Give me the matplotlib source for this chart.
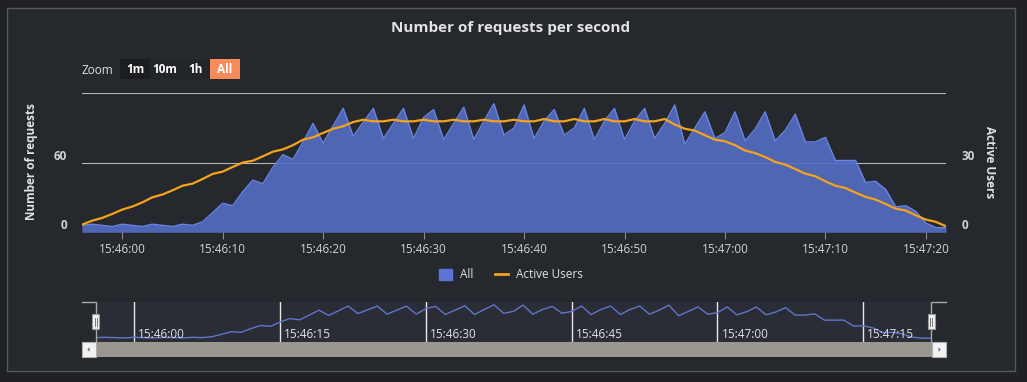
import pandas as pd
import matplotlib
matplotlib.use('Agg')
import matplotlib.pyplot as plt
import matplotlib.dates as mdates
from matplotlib.patches import Rectangle, Polygon, Patch
from matplotlib.lines import Line2D

plt.rcParams['font.family'] = ['Open Sans', 'DejaVu Sans']

# data: one point per second starting at 15:45:56
start_time = '2024-01-01 15:45:56'
requests = [6, 7, 6, 5, 7, 6, 5, 7, 6, 5, 7, 6, 9, 17, 25, 23, 35, 45, 42, 56, 67, 63,
            78, 94, 77, 92, 107, 83, 95, 107, 81, 94, 107, 81, 99, 106, 80, 94, 108, 80, 96, 111, 84, 90,
            110, 81, 96, 106, 84, 90, 107, 80, 96, 107, 80, 96, 107, 81, 94, 110, 76, 90, 104, 81, 86,
            104, 79, 89, 104, 79, 88, 102, 78, 78, 82, 62, 62, 62, 43, 44, 37, 22, 23, 18, 8, 4, 4]
active_users = [3.3, 5, 6.2, 7.9, 9.8, 11.1, 12.9, 15.1, 16.3, 18.1, 20.1, 21, 23, 25.2, 26.2, 28.2,
                30.1, 30.9, 32.8, 34.8, 35.8, 37.6,
                40, 41, 42.9, 44.7, 45.8, 47.6, 48.6, 47.9, 47.9, 48.6, 47.9, 47.9, 48.6, 47.9, 47.9,
                48.6, 47.9, 47.9, 48.6, 47.9, 47.9, 48.6,
                47.9, 47.9, 48.9, 47.9, 47.9, 48.9, 47.9, 47.9, 48.9, 47.9, 47.9, 48.9, 47.9, 47.9,
                48.9, 46.5, 44.7, 43.9, 41.9, 40, 39.3,
                37.6, 35.3, 34.2, 32.5, 30.4, 29.2, 27.3, 25.3, 24.2, 22, 20.1, 19.1, 17.1, 15.3,
                14.1, 12.2, 10.2, 9.4, 7.3, 5.5, 4.5, 2.6]
left_ticks = [0, 60, 120]
right_ticks = [0, 30, 60]
zoom_buttons = ['1m', '10m', '1h', 'All']

times = pd.date_range(start_time, periods=len(requests), freq='s')

OUTER = '#1f2124'
PANEL = '#25282c'
BLUE_FILL = '#546dc4'
BLUE_LINE = '#6a84e6'
ORANGE = '#f5a31b'
TEXT = '#e2e2e2'
TICK_TEXT = '#d2d2d2'

W, H = 1027, 382


def fx(px):
    return px / W


def fy(py):
    return 1 - py / H


fig = plt.figure(figsize=(W / 100, H / 100), dpi=100, facecolor=OUTER)

# panel
fig.add_artist(Rectangle((fx(7), fy(371)), fx(1015) - fx(7), fy(8) - fy(371),
                         transform=fig.transFigure, fc=PANEL, ec='#55585d', lw=1, zorder=0))

fig.text(fx(511), fy(28), 'Number of requests per second', ha='center', va='center',
         fontsize=11, fontweight='bold', color=TEXT)

# zoom buttons
fig.text(fx(82), fy(70), 'Zoom', ha='left', va='center', fontsize=8.5, color=TEXT)
btn_x = [120, 150, 180, 210]
btn_fc = ['#1b1d20', '#222529', '#222529', '#f78b5c']
for x0, label, fc in zip(btn_x, zoom_buttons, btn_fc):
    fig.add_artist(Rectangle((fx(x0), fy(79)), 30 / W, 20 / H, transform=fig.transFigure,
                             fc=fc, ec='none', zorder=1))
    fig.text(fx(x0 + 15), fy(69.5), label, ha='center', va='center', fontsize=8.5,
             fontweight='bold', color='white', zorder=2)

# main chart
ax = fig.add_axes([fx(82), fy(232.3), fx(946) - fx(82), fy(93.3) - fy(232.3)])
ax.set_facecolor('none')
ax.fill_between(times, requests, color=BLUE_FILL, alpha=0.9, lw=0, zorder=2)
ax.plot(times, requests, color=BLUE_LINE, lw=1, zorder=3)
ax.set_xlim(times[0], times[-1])
ax.set_ylim(left_ticks[0], left_ticks[-1])
ax.set_yticks(left_ticks)
ax.yaxis.grid(True, color='#b5b5b5', lw=0.8)
ax.set_axisbelow(True)
ax.tick_params(axis='y', length=0, labelleft=False)
for s in ax.spines.values():
    s.set_visible(False)
ax.xaxis.set_major_locator(mdates.SecondLocator(bysecond=range(0, 60, 10)))
ax.xaxis.set_major_formatter(mdates.DateFormatter('%H:%M:%S'))
ax.tick_params(axis='x', length=5, width=0.8, color='#8a8a8a', labelcolor=TICK_TEXT,
               labelsize=8.5, pad=3)

for v in left_ticks[:-1]:
    ax.annotate(str(v), xy=(0, v), xycoords=('axes fraction', 'data'),
                xytext=(-15 * 0.72, 6.5 * 0.72), textcoords='offset points',
                ha='right', va='center', fontsize=8.5, fontweight='bold', color=TICK_TEXT)

ax2 = ax.twinx()
ax2.plot(times, active_users, color=ORANGE, lw=1.6, zorder=4)
ax2.set_ylim(right_ticks[0], right_ticks[-1])
ax2.set_yticks(right_ticks)
ax2.tick_params(axis='y', length=0, labelright=False)
for s in ax2.spines.values():
    s.set_visible(False)
for v in right_ticks[:-1]:
    ax2.annotate(str(v), xy=(1, v), xycoords=('axes fraction', 'data'),
                 xytext=(16 * 0.72, 6.5 * 0.72), textcoords='offset points',
                 ha='left', va='center', fontsize=8.5, fontweight='bold', color=TICK_TEXT)

fig.text(fx(31.7), fy(161.7), 'Number of requests', rotation=90, ha='center', va='center',
         fontsize=8.5, fontweight='bold', color=TEXT)
fig.text(fx(990), fy(161.7), 'Active Users', rotation=-90, ha='center', va='center',
         fontsize=8.5, fontweight='bold', color=TEXT)

# legend
handles = [Patch(color='#5b74d6'), Line2D([], [], color=ORANGE, lw=2)]
fig.legend(handles, ['All', 'Active Users'], loc='center', bbox_to_anchor=(fx(511), fy(275)),
           ncol=2, frameon=False, handlelength=1.1, handleheight=1.1, columnspacing=1.8,
           handletextpad=0.7, fontsize=8.5, labelcolor=TEXT)

# navigator
nav = fig.add_axes([fx(95.5), fy(342), fx(931.3) - fx(95.5), fy(302) - fy(342)])
nav.set_facecolor('#2a2d35')
nav.plot(times, requests, color='#6075cc', lw=1)
nav.set_xlim(times[0], times[-1])
nav.set_ylim(-8, 120)
nav.xaxis.set_major_locator(mdates.SecondLocator(bysecond=[0, 15, 30, 45]))
nav.xaxis.grid(True, color='#e8e8e8', lw=1)
nav.tick_params(length=0, labelbottom=False, labelleft=False)
for s in nav.spines.values():
    s.set_visible(False)
for loc in nav.xaxis.get_major_locator()():
    nav.annotate(mdates.num2date(loc).strftime('%H:%M:%S'), xy=(loc, 0),
                 xycoords=('data', 'axes fraction'), xytext=(4 * 0.72, 8 * 0.72),
                 textcoords='offset points', ha='left', va='center', fontsize=8.5, color=TEXT)

# navigator outline and handles
line_kw = dict(transform=fig.transFigure, color='#a8a8a8', lw=1)
fig.add_artist(Line2D([fx(82), fx(95.5), fx(95.5)], [fy(302), fy(302), fy(342)], **line_kw))
fig.add_artist(Line2D([fx(946), fx(931.3), fx(931.3)], [fy(302), fy(302), fy(342)], **line_kw))
for hx in [95.5, 931.3]:
    fig.add_artist(Rectangle((fx(hx - 3.8), fy(329.3)), 7.6 / W, 15 / H, transform=fig.transFigure,
                             fc='#f2f2f2', ec='#999999', lw=0.8, zorder=5))
    for dx in [-1, 1]:
        fig.add_artist(Line2D([fx(hx + dx), fx(hx + dx)], [fy(318), fy(326)],
                              transform=fig.transFigure, color='#777777', lw=0.7, zorder=6))

# scrollbar
fig.add_artist(Rectangle((fx(82), fy(356.7)), fx(946) - fx(82), 14.7 / H, transform=fig.transFigure,
                         fc='#9a9790', ec='none', zorder=3))
for bx, pts in [(82, [(90, 349.5), (87.5, 347.5), (87.5, 351.5)]),
                (932.3, [(940.5, 349.5), (938, 347.5), (938, 351.5)])]:
    fig.add_artist(Rectangle((fx(bx), fy(356.7)), 13.5 / W, 14.7 / H, transform=fig.transFigure,
                             fc='#f2f2f2', ec='#b0b0b0', lw=0.8, zorder=4))
pts_l = [(fx(87.3), fy(349.5)), (fx(89.5), fy(347.3)), (fx(89.5), fy(351.7))]
pts_r = [(fx(940.7), fy(349.5)), (fx(938.5), fy(347.3)), (fx(938.5), fy(351.7))]
for pts in [pts_l, pts_r]:
    fig.add_artist(Polygon(pts, closed=True, transform=fig.transFigure, fc='#666666', ec='none',
                           zorder=5))

fig.savefig('out.png', dpi=100, facecolor=fig.get_facecolor())
